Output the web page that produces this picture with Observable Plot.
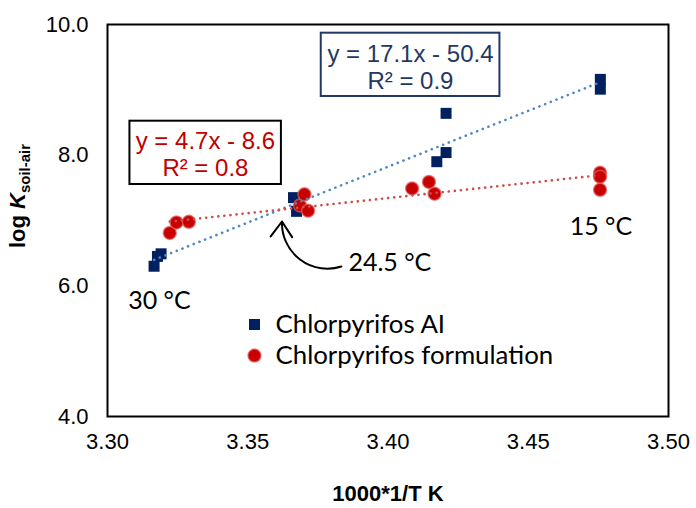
<!DOCTYPE html>
<html><head><meta charset="utf-8">
<script src="https://cdn.jsdelivr.net/npm/d3@7"></script>
<script src="https://cdn.jsdelivr.net/npm/@observablehq/plot@0.6"></script>
<style>body{margin:0;background:#fff}#chart{width:696px;height:508px}</style>
</head><body><div id="chart"></div>
<script>
// Data
const aiX = [3.3166, 3.3178, 3.3191, 3.3663, 3.3674, 3.4174, 3.4207, 3.4207, 3.4757, 3.4757];
const aiY = [6.30, 6.45, 6.49, 7.35, 7.14, 7.90, 8.04, 8.64, 9.16, 9.01];
const formX = [3.3222, 3.3246, 3.3290, 3.3686, 3.3702, 3.3715, 3.4086, 3.4146, 3.4166, 3.4756, 3.4756, 3.4756];
const formY = [6.81, 6.97, 6.98, 7.23, 7.40, 7.15, 7.49, 7.59, 7.41, 7.73, 7.67, 7.47];
const xTicks = [3.30, 3.35, 3.40, 3.45, 3.50];
const yTicks = [4, 6, 8, 10];
const seriesNames = ["Chlorpyrifos AI", "Chlorpyrifos formulation"];
const equations = ["y = 17.1x - 50.4\nR² = 0.9", "y = 4.7x - 8.6\nR² = 0.8"];
const tempLabels = ["30 °C", "24.5 °C", "15 °C"];

// Annotation placement (data units)
const tempX = [3.3185, 3.3859, 3.4759];
const tempY = [5.775, 6.357, 6.908];
const boxX1 = [3.3762, 3.3080], boxX2 = [3.4399, 3.3620];
const boxY1 = [8.898, 7.551], boxY2 = [9.867, 8.52];
const eqX = [3.4080, 3.3349], eqY = [9.354, 8.021];
const legX = 3.3524, legTextX = 3.3599, legY = [5.408, 4.933];

const ai = aiX.map((x, i) => ({x, y: aiY[i]}));
const form = formX.map((x, i) => ({x, y: formY[i]}));
const boxes = boxX1.map((x1, i) => ({x1, x2: boxX2[i], y1: boxY1[i], y2: boxY2[i], i}));
const eqs = equations.map((t, i) => ({t, x: eqX[i], y: eqY[i], i}));
const temps = tempLabels.map((t, i) => ({t, x: tempX[i], y: tempY[i], i}));
const navy = "#1f3864", red = "#c00000";
const labelFont = "Lato, sans-serif";

const chart = Plot.plot({
  width: 696, height: 508,
  marginLeft: 107, marginRight: 28, marginTop: 24, marginBottom: 92,
  style: {fontFamily: "Liberation Sans, Arial, sans-serif", fontSize: "22px", background: "#fff", color: "#000"},
  x: {domain: [3.30, 3.50]},
  y: {domain: [4, 10]},
  marks: [
    Plot.axisX({ticks: xTicks, tickFormat: d3.format(".2f"), tickSize: 0, tickPadding: 17, label: null, fontSize: 22}),
    Plot.axisY({ticks: yTicks, tickFormat: d3.format(".1f"), tickSize: 0, tickPadding: 19, label: null, fontSize: 22}),
    Plot.frame({stroke: "#000", strokeWidth: 2}),
    Plot.rect(boxes, {x1: "x1", x2: "x2", y1: "y1", y2: "y2", fill: "#fff", stroke: d => d.i === 0 ? navy : "#000", strokeWidth: 2}),
    Plot.text(eqs, {x: "x", y: "y", text: "t", fill: d => d.i === 0 ? navy : red, fontSize: 24, lineHeight: 1.14, fontFamily: "Liberation Sans, Arial"}),
    Plot.dot(ai, {x: "x", y: "y", symbol: "square", r: 6.2, fill: "#002060"}),
    Plot.dot(form, {x: "x", y: "y", r: 6.5, fill: "#c80000", stroke: "#e06060", strokeWidth: 1.5, strokeOpacity: 0.7}),
    Plot.linearRegressionY(ai, {x: "x", y: "y", ci: 0, stroke: "#4f86c6", strokeWidth: 2.6, strokeDasharray: "0.1 6", strokeLinecap: "round"}),
    Plot.linearRegressionY(form, {x: "x", y: "y", ci: 0, stroke: "#c9504d", strokeWidth: 2.6, strokeDasharray: "0.1 6", strokeLinecap: "round"}),
    Plot.text(temps.filter(d => d.i !== 1), {x: "x", y: "y", text: "t", textAnchor: "middle", fontSize: 25, fontFamily: labelFont, fill: "#000"}),
    Plot.text(temps.filter(d => d.i === 1), {x: "x", y: "y", text: "t", textAnchor: "start", fontSize: 25, fontFamily: labelFont, fill: "#000"}),
    Plot.arrow([{x1: 3.3834, y1: 6.296, x2: 3.3622, y2: 6.985}], {x1: "x1", y1: "y1", x2: "x2", y2: "y2", bend: 55, stroke: "#000", strokeWidth: 2, headLength: 14, headAngle: 70}),
    Plot.dot([{x: legX, y: legY[0]}], {x: "x", y: "y", symbol: "square", r: 6.2, fill: "#002060"}),
    Plot.dot([{x: legX, y: legY[1]}], {x: "x", y: "y", r: 6.5, fill: "#c80000", stroke: "#e06060", strokeWidth: 1.5, strokeOpacity: 0.7}),
    Plot.text(seriesNames.map((t, i) => ({t, y: legY[i]})), {x: () => legTextX, y: "y", text: "t", textAnchor: "start", fontSize: 25.8, fontFamily: labelFont, fill: "#000"})
  ]
});

const svg = d3.select(chart);
// y-axis title
const yt = svg.append("text")
  .attr("transform", "translate(25,196) rotate(-90)")
  .attr("text-anchor", "middle")
  .attr("font-family", "Liberation Sans, Arial, sans-serif")
  .attr("font-weight", "bold")
  .attr("font-size", 22)
  .attr("fill", "#000");
yt.append("tspan").text("log ");
yt.append("tspan").attr("font-style", "italic").text("K");
yt.append("tspan").attr("font-size", 15).attr("dy", "0.3em").text("soil-air");
// x-axis title
svg.append("text")
  .attr("x", 388).attr("y", 501)
  .attr("text-anchor", "middle")
  .attr("font-family", "Liberation Sans, Arial, sans-serif")
  .attr("font-weight", "bold")
  .attr("font-size", 22)
  .attr("fill", "#000")
  .text("1000*1/T K");

document.getElementById("chart").appendChild(chart);
</script></body></html>
